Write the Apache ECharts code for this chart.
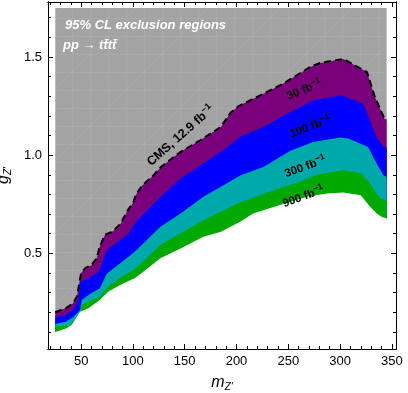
<!DOCTYPE html>
<html><head><meta charset="utf-8">
<script src="https://cdn.jsdelivr.net/npm/echarts@6/dist/echarts.min.js"></script>
<style>html,body{margin:0;padding:0;background:#fff}#c{width:408px;height:393px}</style>
</head><body><div id="c"></div>
<script>
// ---- data ----
const xRange = [18, 354];
const yRange = [0.013, 1.78];
const xMajorTicks = [50, 100, 150, 200, 250, 300, 350];
const xMinorTicks = [20, 30, 40, 60, 70, 80, 90, 110, 120, 130, 140, 160, 170, 180, 190, 210, 220, 230, 240, 260, 270, 280, 290, 310, 320, 330, 340];
const yMajorTicks = [0.5, 1.0, 1.5];
const yMinorTicks = [0.1, 0.2, 0.3, 0.4, 0.6, 0.7, 0.8, 0.9, 1.1, 1.2, 1.3, 1.4, 1.6, 1.7];
const regionTop = [[25, 1.75], [345, 1.75]];
const cms129 = [[25,0.20],[35,0.22],[42,0.245],[46,0.28],[48,0.34],[50,0.40],[54,0.425],[60,0.44],[65,0.475],[68,0.535],[73,0.595],[80,0.61],[88,0.65],[95,0.72],[100,0.755],[103,0.80],[109,0.845],[120,0.898],[127,0.94],[146,1.017],[165,1.076],[185,1.144],[194,1.215],[202,1.25],[226,1.313],[245,1.364],[258,1.406],[271,1.449],[281,1.47],[303,1.49],[326,1.423],[333,1.305],[343,1.183],[345,1.183]];
const lumi30 = [[25,0.175],[35,0.186],[42,0.212],[47,0.263],[49,0.356],[57,0.373],[67,0.407],[75,0.517],[84,0.551],[96,0.602],[102,0.653],[110,0.70],[126.5,0.788],[146,0.881],[168,0.958],[185,1.017],[204,1.095],[226,1.144],[252,1.22],[274,1.279],[301,1.305],[322,1.263],[329,1.178],[335,1.093],[342,1.042],[345,1.042]];
const lumi100 = [[25,0.14],[35,0.152],[42,0.175],[49,0.212],[50.5,0.263],[58.5,0.293],[68,0.322],[75,0.398],[89,0.455],[102,0.51],[110,0.55],[126.5,0.635],[146,0.703],[168,0.788],[185,0.839],[204,0.898],[226,0.94],[252,1.023],[274,1.067],[300,1.09],[308,1.085],[327,1.042],[333.6,0.974],[341.7,0.898],[345,0.889]];
const lumi300 = [[25,0.127],[38.5,0.132],[49,0.195],[50.6,0.237],[57,0.254],[68,0.28],[76,0.33],[89,0.38],[102,0.42],[110,0.46],[126.5,0.542],[146,0.602],[168,0.669],[185,0.712],[204,0.762],[210,0.771],[236,0.822],[258,0.86],[278,0.9],[303,0.925],[321,0.907],[329,0.856],[334,0.813],[339,0.78],[345,0.771]];
const lumi900 = [[25,0.098],[36,0.119],[41,0.136],[49,0.203],[57,0.22],[68,0.263],[76,0.305],[89,0.343],[102,0.375],[110,0.407],[126.5,0.475],[146,0.525],[168,0.584],[185,0.61],[204,0.662],[216,0.703],[242,0.746],[268,0.788],[287,0.805],[303,0.81],[320,0.796],[329,0.737],[335.5,0.703],[340,0.686],[345,0.678]];

// white cover below the weakest reach, widened to the frame so no edge slivers remain
const whiteCover = [[xRange[0], lumi900[0][1]], [lumi900[0][0] - 0.5, lumi900[0][1]]]
  .concat(lumi900)
  .concat([[lumi900[lumi900.length - 1][0] + 0.5, lumi900[lumi900.length - 1][1]], [xRange[1], lumi900[lumi900.length - 1][1]]]);

// ---- styling ----
function hatch() {
  const s = 18;
  const c = document.createElement('canvas'); c.width = s; c.height = s;
  const g = c.getContext('2d');
  g.fillStyle = '#a3a3a3'; g.fillRect(0, 0, s, s);
  g.strokeStyle = 'rgba(182,178,188,0.35)'; g.lineWidth = 1;
  g.beginPath(); g.moveTo(0.5, 0); g.lineTo(0.5, s); g.moveTo(0, 0.5); g.lineTo(s, 0.5); g.stroke();
  g.strokeStyle = 'rgba(182,182,188,0.3)';
  g.beginPath(); g.moveTo(0, s); g.lineTo(s, 0); g.stroke();
  return c;
}
function band(data, color, z) {
  return { type: 'line', data, symbol: 'none', silent: true, z,
    lineStyle: { width: 0, opacity: 0 },
    areaStyle: { color, opacity: 1, origin: 'start' } };
}
const font = 'Liberation Sans';
function xAx(pos, ticks, len, labels) {
  return { type: 'value', min: xRange[0], max: xRange[1], position: pos, z: 20,
    axisLine: { show: true, onZero: false, lineStyle: { color: '#000', width: 1 } },
    axisTick: { show: true, inside: true, length: len, customValues: ticks, lineStyle: { color: '#000' } },
    axisLabel: labels ? { show: true, customValues: ticks, margin: 6, fontSize: 13, color: '#000', fontFamily: font } : { show: false },
    splitLine: { show: false } };
}
function yAx(pos, ticks, len, labels) {
  return { type: 'value', min: yRange[0], max: yRange[1], position: pos, z: 20,
    axisLine: { show: true, onZero: false, lineStyle: { color: '#000', width: 1 } },
    axisTick: { show: true, inside: true, length: len, customValues: ticks, lineStyle: { color: '#000' } },
    axisLabel: labels ? { show: true, customValues: ticks, margin: 6, fontSize: 13, color: '#000', fontFamily: font,
      formatter: v => v.toFixed(1) } : { show: false },
    splitLine: { show: false } };
}
const xa = [xAx('bottom', xMajorTicks, 5, true), xAx('top', xMajorTicks, 5, false),
            xAx('bottom', xMinorTicks, 3, false), xAx('top', xMinorTicks, 3, false)];
const ya = [yAx('left', yMajorTicks, 5, true), yAx('right', yMajorTicks, 5, false),
            yAx('left', yMinorTicks, 3, false), yAx('right', yMinorTicks, 3, false)];
xa[0].name = '{a|m}{b|Z\'}';
xa[0].nameLocation = 'middle'; xa[0].nameGap = 25;
xa[0].nameTextStyle = { rich: {
  a: { fontSize: 16, fontStyle: 'italic', fontFamily: font, color: '#000', lineHeight: 18 },
  b: { fontSize: 10, fontStyle: 'italic', fontFamily: font, color: '#000', lineHeight: 10, verticalAlign: 'bottom' } } };
ya[0].name = '{a|g}{b|Z\'}';
ya[0].nameLocation = 'middle'; ya[0].nameGap = 29; ya[0].nameRotate = 90;
ya[0].nameTextStyle = xa[0].nameTextStyle;

const chart = echarts.init(document.getElementById('c'), null, { renderer: 'canvas' });
const richLab = {
  n: { fontSize: 11.5, fontWeight: 'bold', fontFamily: font, color: '#000', lineHeight: 14, verticalAlign: 'bottom' },
  s: { fontSize: 8.5, fontWeight: 'bold', fontFamily: font, color: '#000', lineHeight: 9, verticalAlign: 'top' },
  N: { fontSize: 12.5, fontWeight: 'bold', fontFamily: font, color: '#000', lineHeight: 15, verticalAlign: 'bottom' },
  S: { fontSize: 9, fontWeight: 'bold', fontFamily: font, color: '#000', lineHeight: 9, verticalAlign: 'top' }
};
function lab(text, x, y, rot, big) {
  const n = big ? 'N' : 'n', s = big ? 'S' : 's';
  return { type: 'text', x, y, rotation: rot, z: 30,
    style: { text: '{' + n + '|' + text + ' fb}{' + s + '|\u2212' + '1}', rich: richLab, align: 'center', verticalAlign: 'middle' } };
}
chart.setOption({
  animation: false,
  grid: { left: 48, right: 12, top: 2, bottom: 44, containLabel: false, outerBoundsMode: 'none' },
  xAxis: xa, yAxis: ya,
  series: [
    band(regionTop, { image: hatch(), repeat: 'repeat' }, 1),
    band(cms129, '#7b007b', 2),
    band(lumi30, '#0000ff', 3),
    band(lumi100, '#00a9a9', 4),
    band(lumi300, '#00a800', 5),
    band(whiteCover, '#ffffff', 6),
    { type: 'line', data: cms129, symbol: 'none', silent: true, z: 7,
      lineStyle: { color: '#000', width: 2, type: [7, 4] } }
  ],
  graphic: [
    { type: 'text', left: 65, top: 19, z: 30, style: { text: '95% CL exclusion regions', fill: '#fff', font: 'italic bold 13px "Liberation Sans"' } },
    { type: 'text', left: 63, top: 39, z: 30, style: { text: 'pp \u2192 tt\u0304tt\u0304', fill: '#fff', font: 'italic bold 13px "Liberation Sans"' } },
    lab('30', 304, 89, 0.38),
    lab('100', 310, 126, 0.36),
    lab('300', 305, 166, 0.35),
    lab('900', 303, 196, 0.35),
    lab('CMS, 12.9', 180, 135, 0.72, true)
  ]
});
</script></body></html>
